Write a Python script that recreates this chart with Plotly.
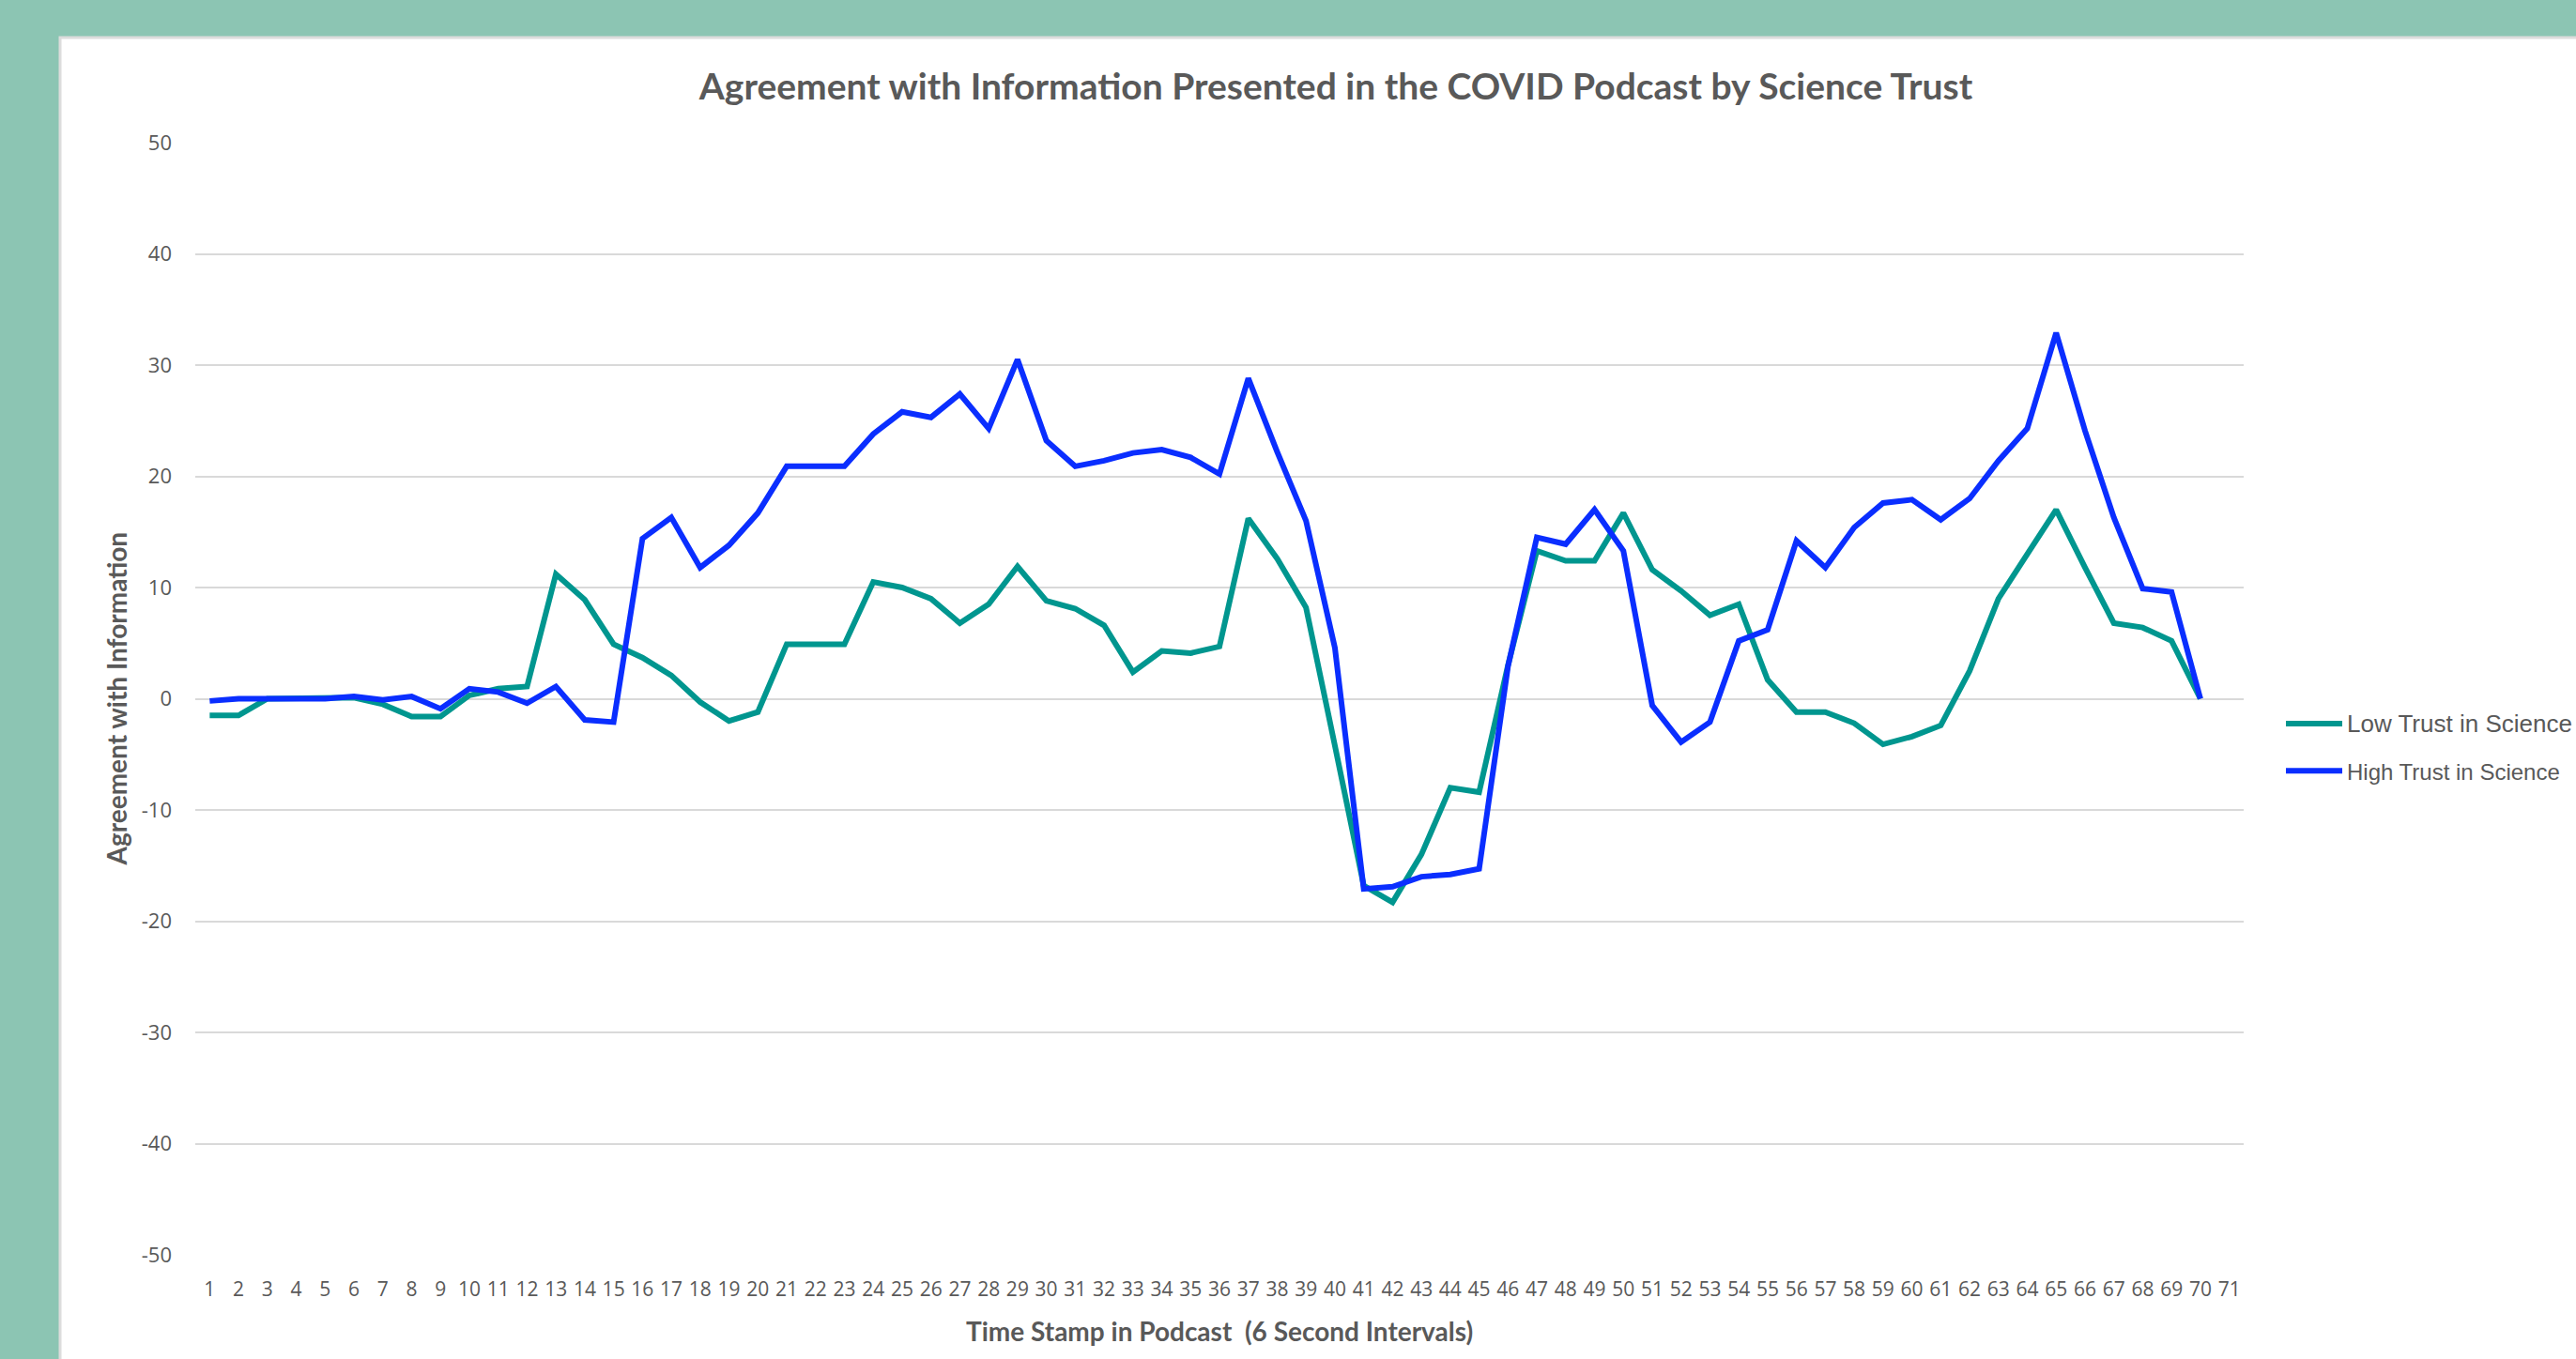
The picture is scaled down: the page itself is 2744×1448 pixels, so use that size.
import plotly.graph_objects as go

# ---- data ----
categories = [str(i) for i in range(1, 72)]  # tick labels 1..71
time_stamps = categories[:70]

low_trust = [-1.5, -1.5, 0, 0, 0, 0.1, -0.5, -1.6, -1.6, 0.3,
             0.9, 1.1, 11.2, 8.9, 4.9, 3.7, 2.1, -0.3, -2.0, -1.2,
             4.9, 4.9, 4.9, 10.5, 10.0, 9.0, 6.8, 8.5, 11.9, 8.8,
             8.1, 6.6, 2.4, 4.3, 4.1, 4.7, 16.2, 12.6, 8.2, -4.2,
             -16.8, -18.3, -14.0, -8.0, -8.4, 3.0, 13.3, 12.4, 12.4, 16.7,
             11.6, 9.7, 7.5, 8.5, 1.7, -1.2, -1.2, -2.2, -4.1, -3.4,
             -2.4, 2.5, 9.0, 13.0, 17.0, 11.8, 6.8, 6.4, 5.2, 0]

high_trust = [-0.2, 0, 0, 0, 0, 0.2, -0.1, 0.2, -0.9, 0.9,
              0.6, -0.4, 1.1, -1.9, -2.1, 14.4, 16.3, 11.8, 13.8, 16.7,
              20.9, 20.9, 20.9, 23.8, 25.8, 25.3, 27.4, 24.3, 30.5, 23.2,
              20.9, 21.4, 22.1, 22.4, 21.7, 20.2, 28.8, 22.2, 16.0, 4.6,
              -17.1, -16.9, -16.0, -15.8, -15.3, 2.9, 14.5, 13.9, 17.0, 13.3,
              -0.6, -3.9, -2.1, 5.2, 6.2, 14.2, 11.8, 15.4, 17.6, 17.9,
              16.1, 18.0, 21.4, 24.3, 32.9, 24.1, 16.3, 9.9, 9.6, 0]

y_tick_vals = [-50, -40, -30, -20, -10, 0, 10, 20, 30, 40, 50]
y_tick_text = ["-50", "-40", "-30", "-20", "-10", "0", "10", "20", "30", "40", "50"]

series_names = ["Low Trust in Science", "High Trust in Science"]
title_text = "Agreement with Information Presented in the COVID Podcast by Science Trust"
x_title = "Time Stamp in Podcast  (6 Second Intervals)"
y_title = "Agreement with Information"

# ---- styling ----
W, H = 2744, 1448
L, R, T, B = 208, 354, 152, 111
TEXT = "#595959"
TEAL = "#00968F"
BLUE = "#0A2EFF"
FRAME = "#8CC5B3"

fig = go.Figure()
fig.add_trace(go.Scatter(
    x=time_stamps, y=low_trust, mode="lines",
    name="<span style='font-size:26px'>" + series_names[0] + "</span>",
    legendgroup="a",
    line=dict(color=TEAL, width=6),
))
fig.add_trace(go.Scatter(
    x=time_stamps, y=high_trust, mode="lines",
    name=series_names[1], legendgroup="b",
    line=dict(color=BLUE, width=6),
))

pw = W - L - R
ph = H - T - B

fig.update_layout(
    width=W, height=H,
    margin=dict(l=L, r=R, t=T, b=B, autoexpand=False),
    paper_bgcolor=FRAME,
    plot_bgcolor="white",
    font=dict(family="Open Sans, Lato, sans-serif", color=TEXT, size=22),
    title=dict(
        text="<b>" + title_text + "</b>",
        font=dict(family="Lato, sans-serif", size=39, color=TEXT),
        x=1423 / W, xanchor="center", xref="container",
        y=1 - 92 / H, yanchor="middle", yref="container",
    ),
    showlegend=True,
    legend=dict(
        x=(2430 - L) / pw, xanchor="left",
        y=(H - B - 749) / ph, yanchor="top",
        font=dict(family="Liberation Sans, Arial, sans-serif", size=24, color=TEXT),
        bgcolor="rgba(0,0,0,0)",
        traceorder="grouped", tracegroupgap=16,
        itemwidth=60,
    ),
    xaxis=dict(
        type="category",
        categoryorder="array", categoryarray=categories,
        tickvals=categories, ticktext=categories,
        range=[-0.5, len(categories) - 0.5],
        showgrid=False, zeroline=False, showline=False,
        ticks="", tickangle=0,
        tickfont=dict(family="Open Sans, sans-serif", size=21, color=TEXT),
        ticklabelstandoff=22,
        automargin=False,
    ),
    yaxis=dict(
        range=[-50, 50],
        tickvals=y_tick_vals, ticktext=y_tick_text,
        showgrid=True, gridcolor="#D9D9D9", gridwidth=2,
        zeroline=False, showline=False, ticks="",
        tickfont=dict(family="Open Sans, sans-serif", size=22, color=TEXT),
        ticklabelstandoff=24,
        automargin=False,
    ),
    shapes=[
        # white chart panel inside the coloured frame
        dict(type="rect", xref="paper", yref="paper", layer="below",
             x0=(64 - L) / pw, x1=(W + 10 - L) / pw,
             y0=(H - B - (H + 10)) / ph, y1=(H - B - 40) / ph,
             fillcolor="white", line=dict(color="#DCDCDC", width=3)),
    ],
    annotations=[
        dict(text="<b>" + x_title + "</b>", xref="paper", yref="paper",
             x=0.5, y=(H - B - 1418) / ph, xanchor="center", yanchor="middle",
             showarrow=False,
             font=dict(family="Lato, sans-serif", size=28, color=TEXT)),
        dict(text="<b>" + y_title + "</b>", xref="paper", yref="paper",
             x=(123 - L) / pw, y=0.5, xanchor="center", yanchor="middle",
             textangle=-90, showarrow=False,
             font=dict(family="Lato, sans-serif", size=28, color=TEXT)),
    ],
)

fig.write_html(
    "out.html",
    config={"displayModeBar": False},
    post_script="document.body.style.margin='0px';document.body.style.overflow='hidden';",
)
